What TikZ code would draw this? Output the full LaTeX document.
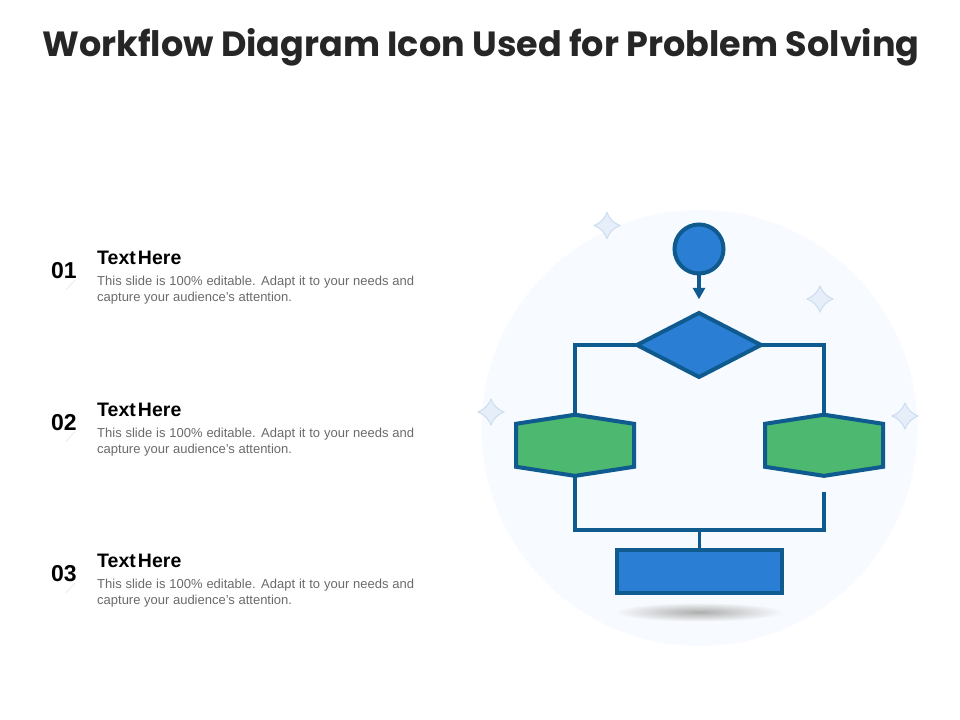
\documentclass[tikz,border=0pt]{standalone}
\usepackage{fontspec}
\setmainfont{Liberation Sans}
\newfontfamily\titlefont{Poppins}
\newfontfamily\headfont[WordSpace=0.4]{Liberation Sans}
\usetikzlibrary{arrows.meta,shapes.geometric,shapes.symbols}
\definecolor{bubblecol}{HTML}{F7FAFE}
\definecolor{linecol}{HTML}{0F5A8F}
\definecolor{bluecol}{HTML}{2A7FD5}
\definecolor{greencol}{HTML}{4DB86F}
\definecolor{sparkfill}{HTML}{E6EFF9}
\definecolor{sparkline}{HTML}{CFDFF0}
\definecolor{bodycol}{HTML}{6A6A6A}
\definecolor{titlecol}{HTML}{262626}
\tikzset{
  flowshape/.style={draw=linecol,line width=4bp,outer sep=0pt,inner sep=0pt},
  flowline/.style={draw=linecol,line width=3.8bp},
  hexbox/.style={flowshape,fill=greencol,shape=signal,signal to=north and south,signal pointer angle=162.5,minimum width=118bp,minimum height=43bp},
  numlabel/.style={font=\fontsize{23bp}{24bp}\selectfont\bfseries,inner sep=0pt},
  headlabel/.style={font=\headfont\fontsize{19.5bp}{20bp}\selectfont\bfseries,inner sep=0pt,anchor=west},
  bodylabel/.style={font=\fontsize{13bp}{16bp}\selectfont,text=bodycol,inner sep=0pt,anchor=north west,text width=317bp,align=justify},
  sparkmark/.style={fill=sparkfill,draw=sparkline,line width=1.2bp,line join=round},
}
\begin{document}
\begin{tikzpicture}[>=latex,line join=miter]
\useasboundingbox (0bp,0bp) rectangle (960bp,720bp);
%%
\node (node_bubble) at (699.5bp,292bp) [circle,fill=bubblecol,minimum size=436bp,inner sep=0pt] {};
  \node (node_title) at (481bp,672.5bp) [font=\titlefont\fontsize{35bp}{40bp}\selectfont\bfseries,text=titlecol,inner sep=0pt] {Workflow Diagram Icon Used for Problem Solving};
  \node (node_shadow) at (699bp,108bp) [ellipse,minimum width=168bp,minimum height=19bp,inner sep=0pt,inner color=black!32,outer color=bubblecol] {};
  \node (node_circle) at (699bp,471bp) [flowshape,circle,fill=bluecol,minimum size=49bp] {};
  \node (node_diamond) at (699bp,375bp) [flowshape,diamond,fill=bluecol,minimum width=124bp,minimum height=64bp] {};
  \node (node_hexleft) at (575bp,274.7bp) [hexbox] {};
  \node (node_hexright) at (824bp,274.7bp) [hexbox] {};
  \node (node_rect) at (699.5bp,148.5bp) [flowshape,rectangle,fill=bluecol,minimum width=165bp,minimum height=43bp] {};
  \coordinate (join_mid) at (699.5bp,190bp);
  \coordinate (join_end) at (824bp,228bp);
  \coordinate (arrow_end) at (699bp,420.7bp);
%
  \draw [flowline] (node_diamond.west) -| (node_hexleft.north);
  \draw [flowline] (node_diamond.east) -| (node_hexright.north);
  \draw [flowline] (node_hexleft.south) |- (join_mid) -| (join_end);
  \draw [flowline] (join_mid) -- (node_rect.north);
  \draw [flowline,-{Triangle[length=11.5bp,width=12bp]}] (node_circle.south) -- (arrow_end);
%
  \foreach \sx/\sy in {607/494.5,820/421,491/308,905/304} {
    \draw [sparkmark] (\sx bp,\sy bp+13bp) .. controls (\sx bp+3bp,\sy bp+6bp) and (\sx bp+6bp,\sy bp+3bp) .. (\sx bp+13bp,\sy bp)
      .. controls (\sx bp+6bp,\sy bp-3bp) and (\sx bp+3bp,\sy bp-6bp) .. (\sx bp,\sy bp-13bp)
      .. controls (\sx bp-3bp,\sy bp-6bp) and (\sx bp-6bp,\sy bp-3bp) .. (\sx bp-13bp,\sy bp)
      .. controls (\sx bp-6bp,\sy bp+3bp) and (\sx bp-3bp,\sy bp+6bp) .. cycle;
  }
%
  \foreach \rowid/\rowy in {1/449,2/297.5,3/146} {
    \node (node_num\rowid) at (64bp,\rowy bp) [numlabel] {0\rowid};
    \node (node_head\rowid) at (97bp,\rowy bp+13bp) [headlabel] {Text Here};
    \node (node_body\rowid) at (97bp,\rowy bp-5bp) [bodylabel] {This slide is 100\% editable. Adapt it to your needs and\linebreak capture your audience’s attention.};
    \coordinate (tick_a\rowid) at (75bp,\rowy bp-9bp);
    \coordinate (tick_b\rowid) at (66bp,\rowy bp-19bp);
    \draw [black!10,line width=0.6bp] (tick_a\rowid) -- (tick_b\rowid);
  }
%
\end{tikzpicture}
\end{document}
